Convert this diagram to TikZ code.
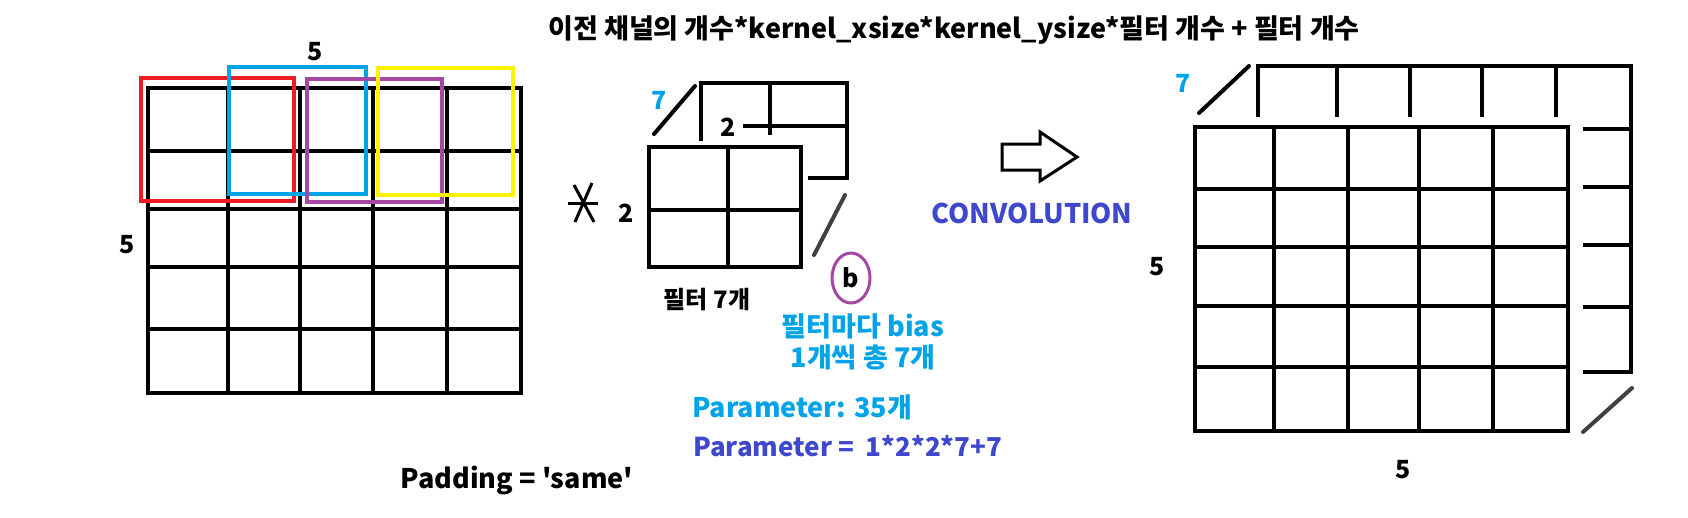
\documentclass[tikz,border=0pt]{standalone}
\usepackage{fontspec}
\setmainfont{Noto Sans CJK KR}
\newfontfamily\plainkr{Noto Sans CJK KR}[Ligatures=TeXOff]
\usetikzlibrary{shapes.geometric}
\definecolor{pred}{HTML}{ED1C24}
\definecolor{pblue}{HTML}{00A2E8}
\definecolor{ppurple}{HTML}{A349A4}
\definecolor{pyellow}{HTML}{FFF200}
\definecolor{pindigo}{HTML}{3F48CC}
\definecolor{pgray}{HTML}{404040}
\begin{document}
\begin{tikzpicture}[x=1pt,y=-1pt,
  gridline/.style={line width=4pt, black},
  winbox/.style={line width=4pt},
  label/.style={font=\fontsize{25}{29}\selectfont\bfseries, inner sep=0pt},
  big/.style={font=\fontsize{27}{31}\selectfont\bfseries},
  slash/.style={line width=4pt, line cap=round}]
\fill[white] (0,0) rectangle (1688,517);
\useasboundingbox (0,0) rectangle (1688,517);
% title
\node[label, big] (title) at (954,30) {이전 채널의 개수*kernel\_xsize*kernel\_ysize*필터 개수 + 필터 개수};
% input grid
\foreach \x in {228,300,373,447} \draw[gridline] (\x,88) -- (\x,393);
\foreach \y in {151,209,267,329} \draw[gridline] (148,\y) -- (521,\y);
\draw[gridline] (148,88) rectangle (521,393);
\draw[winbox, pred] (141,78) rectangle (294,201);
\draw[winbox, pblue] (229,67) rectangle (366,194);
\draw[winbox, ppurple] (307,79) rectangle (442,202);
\draw[winbox, pyellow] (378,68) rectangle (513,195);
\node[label] (in5top) at (315,52) {5};
\node[label] (in5left) at (127,245) {5};
% asterisk
\draw[line width=3pt] (568,203) -- (598,203);
\draw[line width=3pt] (574,185) -- (594,222);
\draw[line width=3pt] (592,183) -- (575,222);
% filter
\draw[gridline] (701,141) -- (701,83) -- (847,83) -- (847,178) -- (808,178);
\draw[gridline] (770,83) -- (770,135);
\draw[gridline] (743,126) -- (847,126);
\draw[gridline] (728,147) -- (728,267);
\draw[gridline] (649,210) -- (801,210);
\draw[gridline] (649,147) rectangle (801,267);
\draw[slash] (654,134) -- (695,86);
\draw[slash, pgray] (814,255) -- (845,195);
\node[label, text=pblue] (f7) at (659,100) {7};
\node[label] (f2top) at (728,127) {2};
\node[label] (f2left) at (626,213) {2};
\node[label, font=\fontsize{24}{28}\selectfont\bfseries] (fcount) at (707,300) {필터 7개};
\node[label, draw=ppurple, line width=3pt, ellipse, minimum width=38pt, minimum height=50pt] (bias) at (851,278) {b};
\node[label, big, text=pblue] (bias1) at (863,326) {필터마다 bias};
\node[label, big, text=pblue] (bias2) at (863,357) {1개씩 총 7개};
\node[label, big, text=pblue, anchor=west] (param1) at (692,407) {Parameter: 35개};
\node[label, font=\fontsize{26}{30}\selectfont\bfseries, text=pindigo, anchor=west] (param2) at (693,446) {Parameter =\ \ 1*2*2*7+7};
\node[label, big] (padding) at (517,480) {\plainkr Padding = 'same'};
% arrow
\draw[line width=3pt, line join=miter] (1002,144) -- (1040,144) -- (1040,132) -- (1077,157) -- (1040,181) -- (1040,170) -- (1002,170) -- cycle;
\node[label, big, text=pindigo] (conv) at (1032,213) {CONVOLUTION};
% output grid
\foreach \x in {1274,1348,1419,1493} \draw[gridline] (\x,127) -- (\x,431);
\foreach \y in {189,247,306,367} \draw[gridline] (1195,\y) -- (1568,\y);
\draw[gridline] (1195,127) rectangle (1568,431);
\draw[gridline] (1258,117) -- (1258,66) -- (1631,66) -- (1631,372) -- (1583,372);
\foreach \x in {1337,1410,1482,1556} \draw[gridline] (\x,66) -- (\x,117);
\foreach \y in {129,187,245,307} \draw[gridline] (1583,\y) -- (1631,\y);
\draw[slash] (1199,113) -- (1249,66);
\draw[slash, pgray] (1583,432) -- (1632,388);
\node[label, text=pblue] (o7) at (1183,83) {7};
\node[label] (o5left) at (1157,267) {5};
\node[label] (o5bot) at (1403,470) {5};
\end{tikzpicture}
\end{document}
